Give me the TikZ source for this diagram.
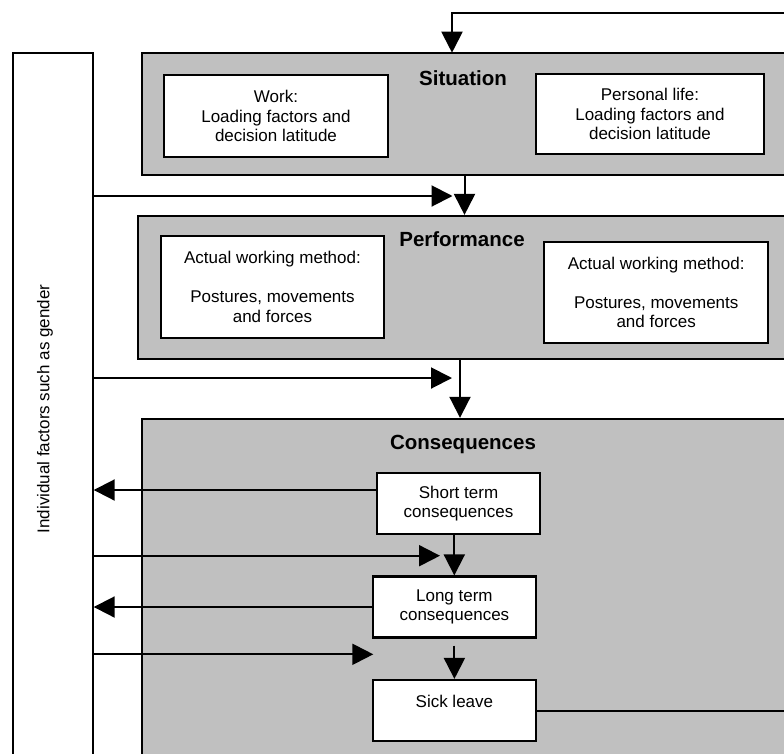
\documentclass[tikz,border=0pt]{standalone}
\usepackage{fontspec}
\setmainfont{Liberation Sans}
\usetikzlibrary{positioning, arrows.meta}
\definecolor{panelgray}{RGB}{192,192,192}

\begin{document}
\begin{tikzpicture}[x=1pt, y=-1pt,
    panel/.style={draw, line width=2.2pt, fill=panelgray, inner sep=0pt},
    card/.style={draw, line width=2.2pt, fill=white, align=center, inner sep=0pt,
                 font=\fontsize{17}{19.5}\selectfont},
    heading/.style={anchor=base, font=\bfseries\fontsize{20.5}{24}\selectfont},
    flow/.style={line width=2pt, -{Triangle[length=21pt, width=21pt]}}]

    \useasboundingbox (0,0) rectangle (784,753);
    \clip (0,0) rectangle (784,753);

    % individual factors column
    \node[draw, line width=2pt, inner sep=0pt, minimum width=80pt, minimum height=712pt]
        (indiv) at (52.7,409) {};
    \node[rotate=90, font=\fontsize{17}{20}\selectfont] (indivtext) at (45,409)
        {Individual factors such as gender};

    % situation
    \node[panel, minimum width=668pt, minimum height=122pt] (sit) at (475.7,113.7) {};
    \node[heading] (sittitle) at (463,85.7) {Situation};
    \node[card, minimum width=224pt, minimum height=82pt] (work) at (276,116)
        {Work:\\Loading factors and\\decision latitude};
    \node[card, minimum width=228pt, minimum height=80pt] (personal) at (650,114)
        {Personal life:\\Loading factors and\\decision latitude};

    % performance
    \node[panel, minimum width=672pt, minimum height=143pt] (perf) at (473.7,287.5) {};
    \node[heading] (perftitle) at (462,246.7) {Performance};
    \node[card, minimum width=223pt, minimum height=102pt] (method) at (272.5,287)
        {Actual working method:\\[19.5pt]Postures, movements\\and forces};
    \node[card, minimum width=224pt, minimum height=101pt] (methodr) at (656.2,292.5)
        {Actual working method:\\[19.5pt]Postures, movements\\and forces};

    % consequences
    \node[panel, minimum width=668pt, minimum height=371pt] (cons) at (475.7,604.4) {};
    \node[heading] (constitle) at (463,449.3) {Consequences};
    \node[card, minimum width=163pt, minimum height=61pt] (short) at (458.5,503.7)
        {Short term\\consequences};
    \node[card, minimum width=163pt, minimum height=61pt] (long) at (454.4,607)
        {Long term\\consequences};
    \node[card, minimum width=163pt, minimum height=61pt, text depth=19pt] (sick) at (454.4,710.5)
        {Sick leave};

    \coordinate (loop) at (800,13.3);
    \coordinate (sitin) at (452,52.7);
    \coordinate (sitjoin) at (452.5,196);
    \coordinate (perfjoin) at (452,378);
    \coordinate (shortjoin) at (440,555.7);
    \coordinate (longjoin) at (373.3,654.3);

    % connectors
    \draw[flow] (sick.east) -| (loop) -| (sitin);
    \draw[flow] (464.5,0 |- sit.south) -- (464.5,0 |- perf.north);
    \draw[flow] (indiv.east |- sitjoin) -- (sitjoin);
    \draw[flow] (460,0 |- perf.south) -- (460,0 |- cons.north);
    \draw[flow] (indiv.east |- perfjoin) -- (perfjoin);
    \draw[flow] (short.west |- 0,490) -- (indiv.east |- 0,490);
    \draw[flow] (454.3,0 |- short.south) -- (454.3,0 |- long.north);
    \draw[flow] (indiv.east |- shortjoin) -- (shortjoin);
    \draw[flow] (long.west) -- (indiv.east |- long.west);
    \draw[flow] (indiv.east |- longjoin) -- (longjoin);
    \draw[flow] ([yshift=-7pt]long.south) -- (sick.north);
\end{tikzpicture}
\end{document}
